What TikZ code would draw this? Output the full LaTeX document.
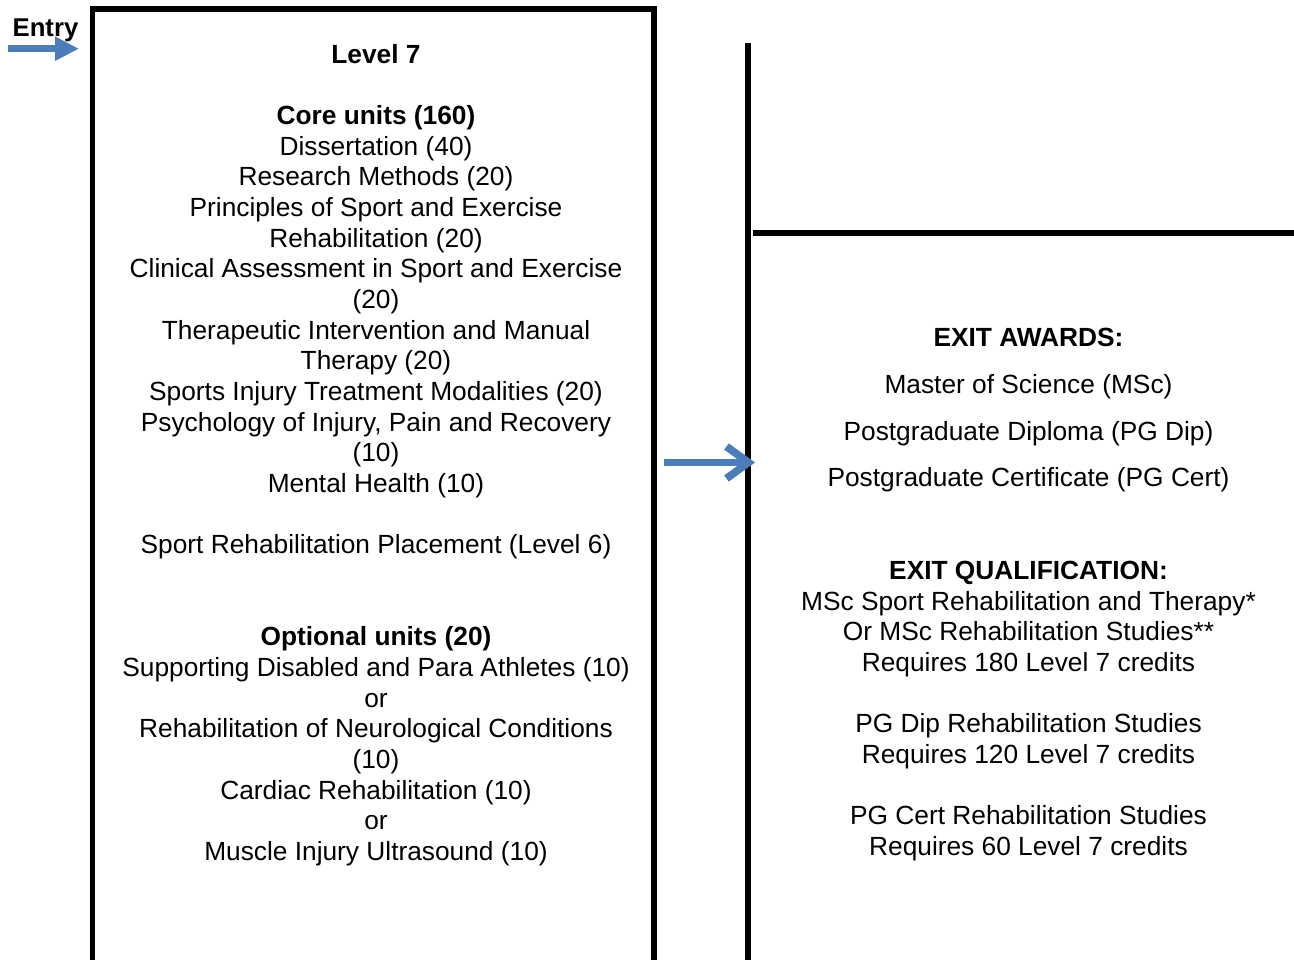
\documentclass[tikz,border=0pt]{standalone}
\usepackage{fontspec}
\setmainfont{Liberation Sans}
\usetikzlibrary{arrows.meta}
\definecolor{arrowblue}{RGB}{74,126,187}
\begin{document}
\begin{tikzpicture}[x=1pt,y=-1pt,
  frame/.style={line width=5.8pt, black, line join=miter},
  txt/.style={font=\fontsize{26.3}{30.7}\selectfont, anchor=base, inner sep=0pt},
  entrytxt/.style={font=\fontsize{25.7}{30}\selectfont\bfseries, anchor=base, inner sep=0pt},
  entryarrow/.style={arrowblue, line width=7.3pt, -{Triangle[length=24pt,width=22.7pt]}},
  exitarrow/.style={arrowblue, line width=7.7pt, -{Straight Barb[length=22pt,width=32pt]}}
]
\useasboundingbox (0,0) rectangle (1294,960);
% frames
\draw[frame] (92.5,966) -- (92.5,9) -- (653.7,9) -- (653.7,966);
\draw[frame] (748,43) -- (748,966);
\draw[frame] (753,233) -- (1300,233);
% entry
\node[entrytxt] (entry) at (45.5,36.5) {Entry};
\coordinate (entryStart) at (8,48.7);
\coordinate (entryTip) at (79,48.7);
\draw[entryarrow] (entryStart) -- (entryTip);
% exit arrow
\coordinate (exitStart) at (664,462.5);
\coordinate (exitTip) at (755,462.5);
\draw[exitarrow] (exitStart) -- (exitTip);
% left text
\foreach \n/\t in {
  1/{\bfseries Level 7},
  3/{\bfseries Core units (160)},
  4/{Dissertation (40)},
  5/{Research Methods (20)},
  6/{Principles of Sport and Exercise},
  7/{Rehabilitation (20)},
  8/{Clinical Assessment in Sport and Exercise},
  9/{(20)},
  10/{Therapeutic Intervention and Manual},
  11/{Therapy (20)},
  12/{Sports Injury Treatment Modalities (20)},
  13/{Psychology of Injury, Pain and Recovery},
  14/{(10)},
  15/{Mental Health (10)},
  17/{Sport Rehabilitation Placement (Level 6)},
  20/{\bfseries Optional units (20)},
  21/{Supporting Disabled and Para Athletes (10)},
  22/{or},
  23/{Rehabilitation of Neurological Conditions},
  24/{(10)},
  25/{Cardiac Rehabilitation (10)},
  26/{or},
  27/{Muscle Injury Ultrasound (10)}}
  \node[txt] (L\n) at (376,{63.3+30.66*(\n-1)}) {\t};
% right text: awards
\node[txt] (awards) at (1028.5,346) {\bfseries EXIT AWARDS:};
\node[txt] (msc) at (1028.5,393.3) {Master of Science (MSc)};
\node[txt] (pgdip) at (1028.5,440) {Postgraduate Diploma (PG Dip)};
\node[txt] (pgcert) at (1028.5,486.7) {Postgraduate Certificate (PG Cert)};
% right text: qualifications
\foreach \k/\t in {
  0/{\bfseries EXIT QUALIFICATION:},
  1/{MSc Sport Rehabilitation and Therapy*},
  2/{Or MSc Rehabilitation Studies**},
  3/{Requires 180 Level 7 credits},
  5/{PG Dip Rehabilitation Studies},
  6/{Requires 120 Level 7 credits},
  8/{PG Cert Rehabilitation Studies},
  9/{Requires 60 Level 7 credits}}
  \node[txt] (Q\k) at (1028.5,{579.3+30.7*\k}) {\t};
\end{tikzpicture}
\end{document}
